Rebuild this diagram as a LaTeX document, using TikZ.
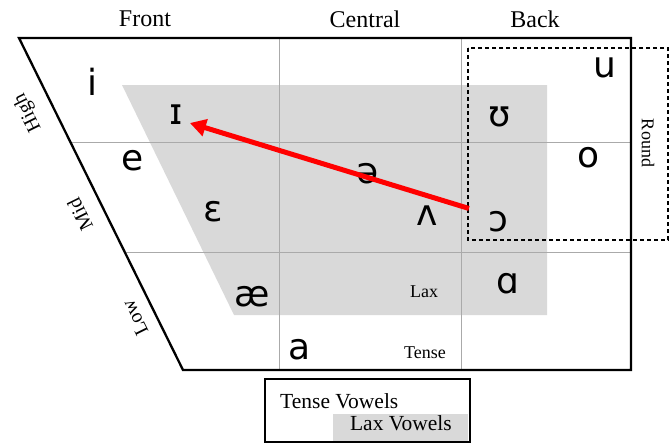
\documentclass[tikz,border=0pt]{standalone}
\usepackage{fontspec}
\setmainfont{Liberation Serif}
\newfontfamily\ipafont{DejaVu Sans}
\usetikzlibrary{arrows.meta}

\definecolor{laxgray}{RGB}{217,217,217}
\definecolor{gridgray}{RGB}{170,170,170}

\begin{document}
\begin{tikzpicture}[
  x=1pt, y=-1pt,
  vowel/.style={font=\ipafont\fontsize{36}{36}\selectfont, inner sep=0pt},
  hdr/.style={font=\fontsize{24}{24}\selectfont, inner sep=0pt},
  side/.style={font=\fontsize{20}{20}\selectfont, inner sep=0pt, rotate=116.3},
  tag/.style={font=\fontsize{18}{18}\selectfont, inner sep=0pt},
  legend/.style={font=\fontsize{21.5}{21.5}\selectfont, inner sep=0pt},
  gridline/.style={draw=gridgray, line width=0.8pt},
  chart/.style={draw=black, line width=2.3pt},
  shiftarrow/.style={draw=red, line width=5pt, -{Triangle[length=16pt,width=17pt]}}
]
\useasboundingbox (0,0) rectangle (671,444);

% ---- lax region ----
\fill[laxgray] (122,85) -- (547,85) -- (547,315) -- (234,315) -- cycle;

% ---- grid lines ----
\draw[gridline] (279,38) -- (279,370);
\draw[gridline] (461,38) -- (461,370);
\draw[gridline] (70,142) -- (631,142);
\draw[gridline] (125,252) -- (631,252);

% ---- outline ----
\draw[chart] (19,38) -- (631,38) -- (631,370) -- (183,370) -- cycle;

% ---- round vowels ----
\draw[line width=1.2pt, dash pattern=on 4pt off 3pt] (468,48) rectangle (668,240);
\node[tag, rotate=-90] (round) at (648,143) {Round};

% ---- column headers ----
\foreach \lbl/\xc in {Front/145, Central/365, Back/535}
  \node[hdr] (hdr-\lbl) at (\xc,19) {\lbl};

% ---- height labels ----
\foreach \lbl/\xc/\yc in {High/28/113, Mid/80/215, Low/135/318}
  \node[side] (side-\lbl) at (\xc,\yc) {\lbl};

% ---- vowels ----
\foreach \name/\xc/\yc/\sym in {i/92/82/i, ih/176/115/ɪ, e/133/161/e, eh/213/212/ɛ,
    ae/252/297/æ, a/300/350/a, schwa/368/174/ə, wedge/427/216/ʌ, u/605/68/u,
    uh/500/117/ʊ, o/589/158/o, oo/498/222/ɔ, aa/508/284/ɑ}
  \node[vowel] (\name) at (\xc,\yc) {\sym};

\node[tag] (lax) at (424,292) {Lax};
\node[tag] (tense) at (425,353) {Tense};

% ---- shift ----
\draw[shiftarrow] ([shift={(-19pt,3pt)}]oo.north west) -- ([shift={(7pt,-8pt)}]ih.east);

% ---- key ----
\fill[laxgray] (333,414) rectangle (468,441);
\draw[chart, line width=2pt] (265,379) rectangle (470,442);
\node[legend, anchor=west] (key-tense) at (280,401) {Tense Vowels};
\node[legend, anchor=east] (key-lax) at (452,423) {Lax Vowels};

\end{tikzpicture}
\end{document}
